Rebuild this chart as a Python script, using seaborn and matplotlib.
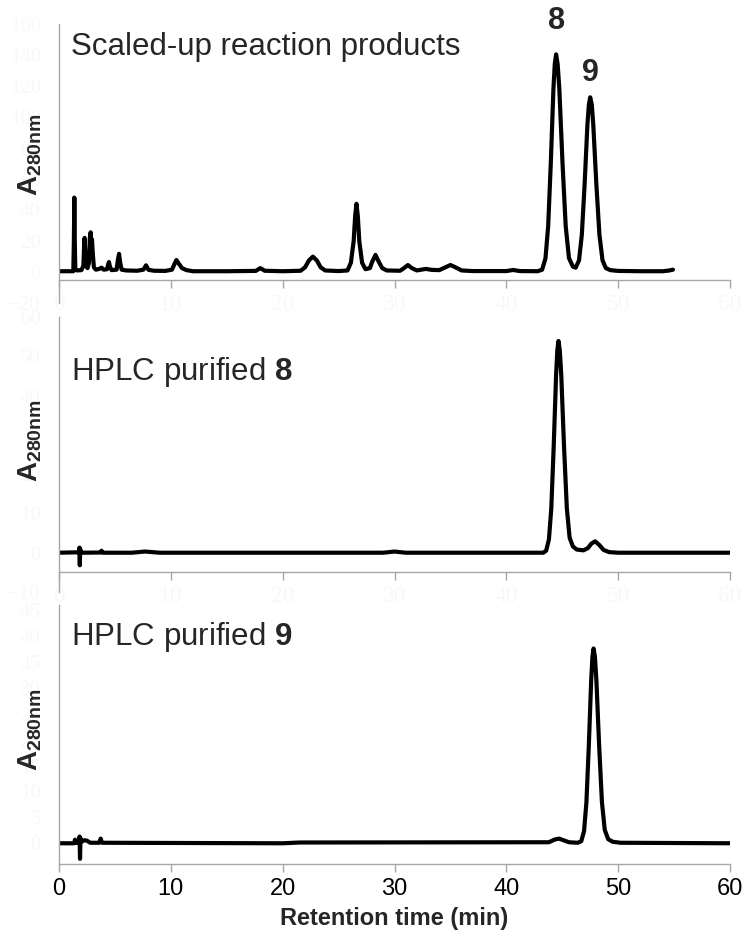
import numpy as np
import pandas as pd
import matplotlib
matplotlib.use("Agg")
import matplotlib.pyplot as plt
import seaborn as sns

# ---------------- data ----------------
# Panel 1: scaled-up reaction products
t_mix = [0.0, 1.28, 1.33, 1.37, 1.41, 1.46, 1.6, 2.0, 2.18, 2.24, 2.29, 2.34, 2.42, 2.55,
         2.68, 2.76, 2.83, 2.88, 2.95, 3.02, 3.12, 3.3, 3.6, 3.8, 4.0, 4.3, 4.4, 4.47, 4.55,
         4.7, 5.15, 5.27, 5.37, 5.47, 5.6, 6.0, 7.0, 7.55, 7.78, 8.0, 8.5, 9.5, 10.1, 10.35,
         10.5, 10.7, 11.0, 11.4, 12.0, 15.0, 17.6, 18.0, 18.4, 20.0, 21.6, 22.0, 22.35, 22.7,
         23.05, 23.4, 23.8, 25.0, 25.8, 26.1, 26.35, 26.48, 26.6, 26.72, 26.85, 27.1, 27.4,
         27.8, 28.0, 28.3, 28.6, 28.9, 29.3, 30.5, 30.85, 31.2, 31.55, 32.0, 32.4, 32.8, 33.3,
         34.0, 34.6, 35.0, 35.4, 36.0, 37.0, 40.0, 40.6, 41.2, 42.8, 43.2, 43.5, 43.74,
         43.975, 44.21, 44.33, 44.45, 44.59, 44.74, 45.025, 45.31, 45.6, 45.95, 46.2, 46.5,
         46.75, 47.0, 47.25, 47.38, 47.5, 47.64, 47.775, 48.05, 48.325, 48.6, 48.9, 49.3,
         50.0, 52.0, 54.0, 54.5, 54.9]
a_mix = [0.5, 0.5, 20, 48, 20, 1.5, 1.0, 1.2, 4, 16, 22, 14, 4, 2.5,
         6, 22, 25.6, 20, 21, 12, 3, 1.5, 2.0, 2.8, 1.5, 1.8, 5, 6.4, 3.5,
         1.2, 1.5, 8, 11.7, 6, 1.5, 1.0, 0.8, 1.5, 4.3, 1.4, 0.8, 0.7, 1.5, 5.5,
         7.7, 5.5, 2.5, 1.2, 0.5, 0.5, 0.7, 2.5, 0.8, 0.5, 0.8, 3, 7.5, 9.9,
         7.5, 3, 1.0, 0.6, 1.0, 6, 20, 36, 44, 36, 20, 6, 1.8,
         2.5, 6.5, 11, 6.5, 2.5, 1.0, 0.8, 2.5, 4.5, 2.5, 1.0, 1.5, 2.0, 1.4,
         1.2, 3.2, 4.5, 3.2, 1.0, 0.6, 0.6, 1.3, 0.6, 0.5, 1.5, 8.8, 29.5,
         70, 118, 134, 140.4, 134, 118, 70, 29.5, 9, 3.5, 2.8, 7.5,
         24, 56.5, 95, 108, 112.7, 108, 95, 56.5, 24, 7.5, 2.5, 1.2,
         0.7, 0.5, 0.5, 0.9, 1.5]

# Panel 2: HPLC purified 8
t_p8 = [0.0, 1.6, 1.80, 1.83, 1.86, 1.89, 1.93, 2.1, 3.7, 3.8, 3.9, 6.5, 7.7, 9.0,
        29.0, 30.0, 31.0, 43.3, 43.56, 43.81, 44.02, 44.235, 44.45, 44.56, 44.66, 44.78,
        44.91, 45.16, 45.41, 45.66, 45.95, 46.3, 46.9, 47.3, 47.6, 47.94, 48.3, 48.7,
        49.2, 50.0, 60.0]
a_p8 = [0.0, 0.1, 0.1, 1.3, -3.2, 1.0, 0.1, 0.0, 0.05, 0.5, 0.0, 0.0, 0.3, 0.0,
        0.0, 0.3, 0.0, 0.0, 0.5, 3.4, 11.3, 27, 45.3, 51.5, 53.9, 51.5,
        45.3, 27, 11.3, 3.8, 1.6, 0.8, 0.6, 1.2, 2.3, 2.9, 2.0, 0.7,
        0.15, 0.0, 0.0]

# Panel 3: HPLC purified 9
t_p9 = [0.0, 1.35, 1.43, 1.52, 1.80, 1.84, 1.88, 1.92, 2.0, 2.3, 2.5, 2.8, 3.6, 3.73,
        3.85, 20.0, 21.5, 43.8, 44.3, 44.7, 45.1, 45.6, 46.4, 46.7, 46.95, 47.16,
        47.375, 47.59, 47.7, 47.8, 47.92, 48.05, 48.3, 48.55, 48.8, 49.1, 49.5, 50.2, 60.0]
a_p9 = [0.0, 0.0, 0.7, 0.1, 0.1, 1.3, -3.0, 1.0, 0.3, 0.6, 0.5, 0.1, 0.1, 0.9,
        0.1, 0.0, 0.15, 0.2, 0.7, 0.9, 0.6, 0.2, 0.1, 0.4, 2.35, 7.9,
        18.8, 31.6, 36.0, 37.6, 36.0, 31.6, 18.8, 7.9, 2.6, 0.8, 0.3, 0.1, 0.0]

panel_titles = ["Scaled-up reaction products", r"HPLC purified $\mathbf{8}$",
                r"HPLC purified $\mathbf{9}$"]
x_ticks = [0, 10, 20, 30, 40, 50, 60]
y_ticks_mix = [-20, 0, 20, 40, 60, 80, 100, 120, 140, 160]
y_ticks_p8 = [-10, 0, 10, 20, 30, 40, 50, 60]
y_ticks_p9 = [-5, 0, 5, 10, 15, 20, 25, 30, 35, 40, 45]
peak_labels = ["8", "9"]
peak_label_t = [44.45, 47.5]
peak_label_y = [152, 119]

# ---------------- style ----------------
sns.set_theme(style="white")
plt.rcParams["font.family"] = ["Liberation Sans", "DejaVu Sans"]
plt.rcParams["mathtext.fontset"] = "custom"
plt.rcParams["mathtext.rm"] = "Liberation Sans"
plt.rcParams["mathtext.it"] = "Liberation Sans:italic"
plt.rcParams["mathtext.bf"] = "Liberation Sans:bold"

fig = plt.figure(figsize=(7.45, 9.40), dpi=100)
W, H = 745.0, 940.0
left = 59 / W
width = 671 / W

def axes_px(top_px, bot_px):
    return fig.add_axes([left, 1 - bot_px / H, width, (bot_px - top_px) / H])

ax1 = axes_px(24, 303)
ax2 = axes_px(317, 592)
ax3 = axes_px(605, 864)

panels = [
    (ax1, t_mix, a_mix, (-20, 160), -5, y_ticks_mix, 0.53),
    (ax2, t_p8, a_p8, (-10, 60), -5, y_ticks_p8, 0.55),
    (ax3, t_p9, a_p9, (-4, 46), -4, y_ticks_p9, 0.52),
]

spine_col = "#a6a6a6"
faint = "#f8f8f8"

for i, (ax, t, a, ylim, cross, yt, ylab_y) in enumerate(panels):
    df = pd.DataFrame({"time": t, "abs": a})
    sns.lineplot(data=df, x="time", y="abs", ax=ax, color="black", linewidth=3.0,
                 estimator=None, sort=False)
    ax.set_xlim(0, 60)
    ax.set_ylim(*ylim)
    for s in ["top", "right"]:
        ax.spines[s].set_visible(False)
    for s in ["left", "bottom"]:
        ax.spines[s].set_color(spine_col)
        ax.spines[s].set_linewidth(1.0)
    ax.spines["bottom"].set_position(("data", cross))
    ax.set_xticks(x_ticks)
    ax.set_yticks([v for v in yt if ylim[0] <= v <= ylim[1]])
    ax.tick_params(axis="x", bottom=True, direction="out", length=6, width=1,
                   color=spine_col, pad=4, labelsize=17)
    ax.tick_params(axis="y", left=False, length=0, pad=13, labelsize=15,
                   labelcolor=faint)
    for lbl in ax.get_yticklabels():
        lbl.set_fontfamily("Liberation Serif")
    if i < 2:
        ax.tick_params(axis="x", labelcolor=faint)
        for lbl in ax.get_xticklabels():
            lbl.set_fontfamily("Liberation Serif")
        ax.set_xlabel("")
    else:
        ax.tick_params(axis="x", labelcolor="black")
        ax.set_xlabel("Retention time (min)", fontsize=17, fontweight="bold",
                      labelpad=5)
    ax.set_ylabel(r"$\mathbf{A}_{\mathbf{280nm}}$", fontsize=20)
    ax.yaxis.set_label_coords(-0.022, ylab_y)
    ax.grid(False)
    ax.set_facecolor("white")

ax1.text(1.1, 145, panel_titles[0], fontsize=22.5, va="center", ha="left")
ax2.text(1.1, 46, panel_titles[1], fontsize=22.5, va="center", ha="left")
ax3.text(1.1, 39.8, panel_titles[2], fontsize=22.5, va="center", ha="left")

for lab, tt, yy in zip(peak_labels, peak_label_t, peak_label_y):
    ax1.text(tt, yy, lab, ha="center", va="bottom", fontsize=22, fontweight="bold",
             clip_on=False)

fig.savefig("out.png", dpi=100, facecolor="white")
